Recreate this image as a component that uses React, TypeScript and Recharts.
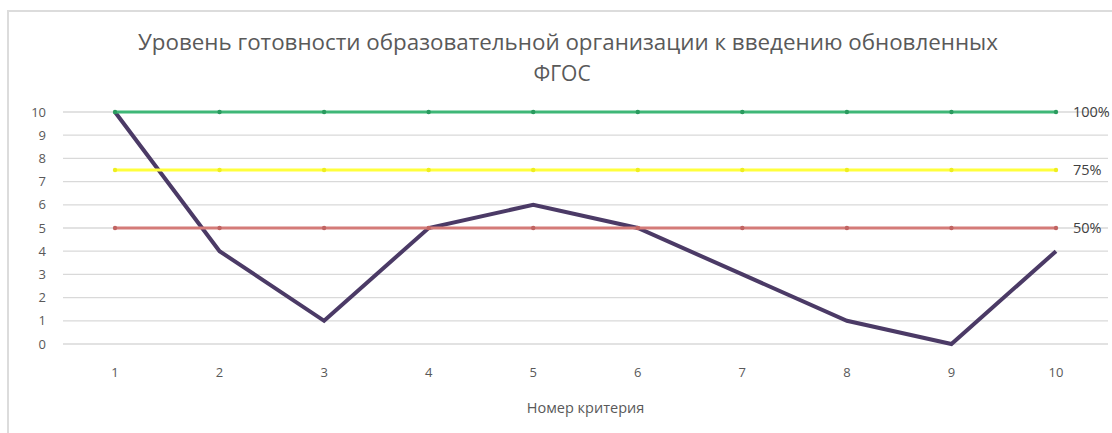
import React from "react";
import { LineChart, Line, XAxis, YAxis, CartesianGrid, LabelList } from "recharts";

const categories = [1, 2, 3, 4, 5, 6, 7, 8, 9, 10];
const readiness = [10, 4, 1, 5, 6, 5, 3, 1, 0, 4];
const level100 = [10, 10, 10, 10, 10, 10, 10, 10, 10, 10];
const level75 = [7.5, 7.5, 7.5, 7.5, 7.5, 7.5, 7.5, 7.5, 7.5, 7.5];
const level50 = [5, 5, 5, 5, 5, 5, 5, 5, 5, 5];
const yTicks = [0, 1, 2, 3, 4, 5, 6, 7, 8, 9, 10];
const levelLabels = ["100%", "75%", "50%"];
const titleLines = [
  "Уровень готовности образовательной организации к введению обновленных",
  "ФГОС",
];
const xAxisTitle = "Номер критерия";

const data = categories.map((c, i) => ({
  cat: String(c),
  score: readiness[i],
  l100: level100[i],
  l75: level75[i],
  l50: level50[i],
}));

const FONT = "'Open Sans', 'DejaVu Sans', sans-serif";

const makeEndLabel = (text: string) => (props: any) => {
  const { x, y, index } = props;
  if (index !== categories.length - 1) return null;
  return (
    <text x={Number(x) + 17} y={Number(y)} dy="0.35em" fill="#404040" fontSize={14.5} fontFamily={FONT}>
      {text}
    </text>
  );
};

const makeDot = (fill: string) => (props: any) => {
  const { cx, cy, index } = props;
  return <circle key={`d-${fill}-${index}`} cx={cx} cy={cy} r={2.2} fill={fill} />;
};

export default function App() {
  return (
    <div style={{ position: "fixed", left: 0, top: 0, width: 1112, height: 433, overflow: "hidden", background: "#fff" }}>
      <div
        style={{
          position: "absolute",
          left: 7,
          top: 10,
          width: 1200,
          height: 500,
          borderTop: "2px solid #dcdcdc",
          borderLeft: "2px solid #dcdcdc",
          boxSizing: "border-box",
        }}
      />
      <svg width={1112} height={433} style={{ position: "absolute", left: 0, top: 0 }}>
        <text
          x={568}
          y={50}
          textAnchor="middle"
          fill="#595959"
          fontSize={21}
          fontFamily={FONT}
          textLength={860}
          lengthAdjust="spacingAndGlyphs"
        >
          {titleLines[0]}
        </text>
        <text x={562} y={81} textAnchor="middle" fill="#595959" fontSize={21} fontFamily={FONT}>
          {titleLines[1]}
        </text>
      </svg>
      <div style={{ position: "absolute", left: 0, top: 0 }}>
        <LineChart width={1112} height={433} data={data} margin={{ top: 112, right: 4, bottom: 0, left: 0 }}>
          <CartesianGrid vertical={false} stroke="#d9d9d9" strokeWidth={1.3} />
          <XAxis
            dataKey="cat"
            height={89}
            padding={{ left: 52, right: 52 }}
            axisLine={false}
            tickLine={false}
            tickSize={0}
            tickMargin={24}
            tick={{ fill: "#595959", fontSize: 13, fontFamily: FONT }}
            label={{
              value: xAxisTitle,
              position: "insideBottom",
              offset: 20,
              fill: "#595959",
              fontSize: 14.5,
              fontFamily: FONT,
            }}
          />
          <YAxis
            width={63}
            domain={[0, 10]}
            ticks={yTicks}
            interval={0}
            axisLine={false}
            tickLine={false}
            tickSize={0}
            tickMargin={17}
            tick={{ fill: "#595959", fontSize: 13, fontFamily: FONT }}
          />
          <Line
            dataKey="score"
            stroke="#4b3a66"
            strokeWidth={4}
            dot={false}
            activeDot={false}
            isAnimationActive={false}
            strokeLinejoin="miter"
          />
          <Line
            dataKey="l100"
            stroke="#3fb777"
            strokeWidth={3}
            dot={makeDot("#2a9a5e")}
            activeDot={false}
            isAnimationActive={false}
          >
            <LabelList dataKey="l100" content={makeEndLabel(levelLabels[0])} />
          </Line>
          <Line
            dataKey="l75"
            stroke="#ffff3c"
            strokeWidth={3}
            dot={makeDot("#eeee20")}
            activeDot={false}
            isAnimationActive={false}
          >
            <LabelList dataKey="l75" content={makeEndLabel(levelLabels[1])} />
          </Line>
          <Line
            dataKey="l50"
            stroke="#d47b78"
            strokeWidth={3}
            dot={makeDot("#c06462")}
            activeDot={false}
            isAnimationActive={false}
          >
            <LabelList dataKey="l50" content={makeEndLabel(levelLabels[2])} />
          </Line>
        </LineChart>
      </div>
    </div>
  );
}
